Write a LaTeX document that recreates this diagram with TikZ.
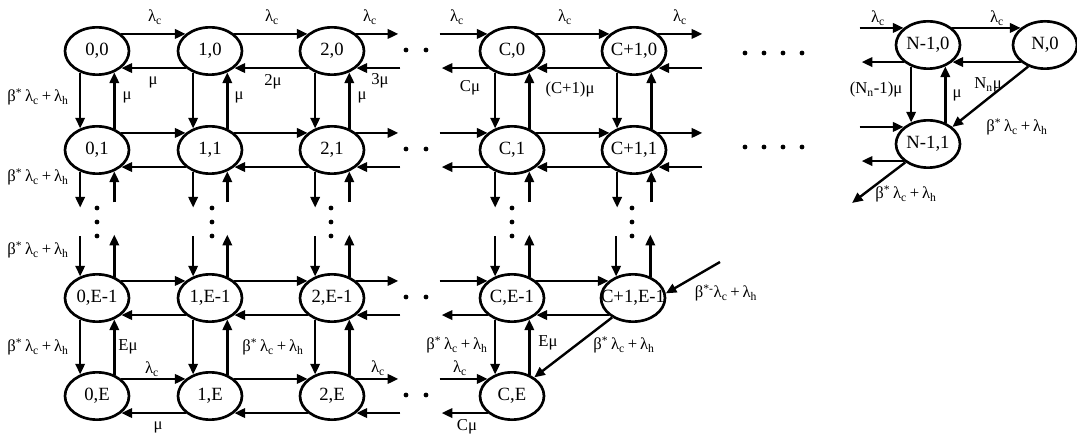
\documentclass[tikz,border=0pt]{standalone}
\usepackage{fontspec}
\setmainfont{Liberation Serif}
\usetikzlibrary{shapes.geometric,arrows.meta,calc}
\newcommand{\lc}{λ\textsubscript{c}}
\newcommand{\blab}{β\textsuperscript{*}\,λ\textsubscript{c}\,+\,λ\textsubscript{h}}
\newcommand{\mb}[1]{\makebox[0pt]{#1}}
\tikzset{
  st/.style={ellipse, draw, line width=2pt, minimum width=48pt, minimum height=35.5pt, inner sep=0pt, font=\fontsize{14}{16}\selectfont},
  ar/.style={line width=1.8pt, -{Triangle[length=8pt,width=7pt]}},
  lab/.style={inner sep=0pt, font=\fontsize{12.5}{14}\selectfont},
  dot/.style={fill=black}
}
\begin{document}
\begin{tikzpicture}[x=0.75pt,y=-0.75pt]
\useasboundingbox (0,0) rectangle (1077,434);
% ---------- nodes
\node[st] (n00) at (97,51) {\mb{0,0}};
\node[st] (n10) at (210,51) {\mb{1,0}};
\node[st] (n20) at (332,51) {\mb{2,0}};
\node[st] (nC0) at (512,51) {\mb{C,0}};
\node[st] (nD0) at (634,51) {\mb{C+1,0}};
\node[st] (nM0) at (928,45) {\mb{N-1,0}};
\node[st] (nN0) at (1045,45) {\mb{N,0}};
\node[st] (n01) at (97,150) {\mb{0,1}};
\node[st] (n11) at (210,150) {\mb{1,1}};
\node[st] (n21) at (332,150) {\mb{2,1}};
\node[st] (nC1) at (512,150) {\mb{C,1}};
\node[st] (nD1) at (634,150) {\mb{C+1,1}};
\node[st] (nM1) at (928,144) {\mb{N-1,1}};
\node[st] (n0p) at (97,298) {\mb{0,E-1}};
\node[st] (n1p) at (210,298) {\mb{1,E-1}};
\node[st] (n2p) at (332,298) {\mb{2,E-1}};
\node[st] (nCp) at (512,298) {\mb{C,E-1}};
\node[st] (nDp) at (633,298) {\mb{C+1,E-1}};
\node[st] (n0q) at (97,396) {\mb{0,E}};
\node[st] (n1q) at (210,396) {\mb{1,E}};
\node[st] (n2q) at (332,396) {\mb{2,E}};
\node[st] (nCq) at (512,396) {\mb{C,E}};
% ---------- horizontal connectors
\foreach \r in {0,1,p,q} {
  \draw[ar] (n0\r.35) -- (n1\r.145);
  \draw[ar] (n1\r.-145) -- (n0\r.-35);
  \draw[ar] (n1\r.35) -- (n2\r.145);
  \draw[ar] (n2\r.-145) -- (n1\r.-35);
  \path (n2\r.35) ++(42,0) coordinate (oa\r);
  \path (n2\r.-35) ++(44,0) coordinate (ob\r);
  \draw[ar] (n2\r.35) -- (oa\r);
  \draw[ar] (ob\r) -- (n2\r.-35);
  \path (nC\r.145) ++(-48,0) coordinate (ia\r);
  \path (nC\r.-145) ++(-46,0) coordinate (ib\r);
  \draw[ar] (ia\r) -- (nC\r.145);
  \draw[ar] (nC\r.-145) -- (ib\r);
  \path (n2\r.center) ++(74,-1) coordinate (da\r);
  \path (n2\r.center) ++(94,-1) coordinate (db\r);
  \fill[dot] (da\r) circle[radius=1.8pt];
  \fill[dot] (db\r) circle[radius=1.8pt];
}
\foreach \r in {0,1,p} {
  \draw[ar] (nC\r.35) -- (nD\r.145);
  \draw[ar] (nD\r.-145) -- (nC\r.-35);
}
\foreach \r in {0,1} {
  \path (nD\r.35) ++(44,0) coordinate (pa\r);
  \path (nD\r.-35) ++(44,0) coordinate (pb\r);
  \draw[ar] (nD\r.35) -- (pa\r);
  \draw[ar] (pb\r) -- (nD\r.-35);
  \path (nM\r.145) ++(-44,0) coordinate (qa\r);
  \path (nM\r.-145) ++(-42,0) coordinate (qb\r);
  \draw[ar] (qa\r) -- (nM\r.145);
  \draw[ar] (nM\r.-145) -- (qb\r);
}
\foreach \xx in {745,764,783,802} {
  \fill[dot] (\xx,53) circle[radius=1.8pt];
  \fill[dot] (\xx,147) circle[radius=1.8pt];
}
\draw[ar] (nM0.35) -- (nN0.145);
\draw[ar] (nN0.-145) -- (nM0.-35);
% ---------- vertical connectors
\foreach \col/\cx in {0/97,1/212,2/331,C/512,D/632} {
  \draw[ar] (n\col 0.-128.5) -- (n\col 1.128.5);
  \draw[ar] (n\col 1.51.5) -- (n\col 0.-51.5);
  \path (n\col 1.-128.5) ++(0,36) coordinate (dn\col);
  \draw[ar] (n\col 1.-128.5) -- (dn\col);
  \path (n\col 1.-51.5) ++(0,31) coordinate (up\col);
  \draw[ar] (up\col) -- (n\col 1.-51.5);
  \path (n\col p.128.5) ++(0,-40) coordinate (en\col);
  \draw[ar] (en\col) -- (n\col p.128.5);
  \path (n\col p.51.5) ++(0,-42) coordinate (fu\col);
  \draw[ar] (n\col p.51.5) -- (fu\col);
  \foreach \yy in {208,222,236} \fill[dot] (\cx,\yy) circle[radius=1.8pt];
}
\foreach \col in {0,1,2,C} {
  \draw[ar] (n\col p.-128.5) -- (n\col q.128.5);
  \draw[ar] (n\col q.51.5) -- (n\col p.-51.5);
}
\draw[ar] (nM0.-128.5) -- (nM1.128.5);
\draw[ar] (nM1.51.5) -- (nM0.-51.5);
% ---------- diagonals
\draw[ar] (nN0.-128) -- (nM1.35);
\coordinate (fM) at (852,203);
\draw[ar] (nM1.-141) -- (fM);
\draw[ar] (nDp.-137) -- (nCq.40);
\coordinate (fD) at (720,262);
\draw[ar] (fD) -- (nDp.8);
% ---------- labels
\foreach \xx/\yy in {155/17,272/17,370/17,457/17,565/17,680/17,878/18,997/18,152/369,378/368,460/368}
  \node[lab] at (\xx,\yy) {\lc};
\node[lab] (m1) at (153,82) {μ};
\node[lab] (m2) at (273,82) {2μ};
\node[lab] (m3) at (380,81) {3μ};
\node[lab] (m4) at (470,88) {Cμ};
\node[lab] (m5) at (570,90) {(C+1)μ};
\node[lab] (v1) at (127,97) {μ};
\node[lab] (v2) at (239,97) {μ};
\node[lab] (v3) at (362,97) {μ};
\node[lab] (b1) at (38,97) {\blab};
\node[lab] (b2) at (38,177) {\blab};
\node[lab] (b3) at (38,250) {\blab};
\node[lab] (b4) at (38,347) {\blab};
\node[lab] (nn1) at (876,90) {(N\textsubscript{n}-1)μ};
\node[lab] (nn2) at (957,95) {μ};
\node[lab] (nn3) at (988,85) {N\textsubscript{n}μ};
\node[lab] (b5) at (1017,127) {\blab};
\node[lab] (b6) at (906,194) {\blab};
\node[lab] (e1) at (128,347) {Eμ};
\node[lab] (m6) at (158,427) {μ};
\node[lab] (b7) at (273,347) {\blab};
\node[lab] (b8) at (457,345) {\blab};
\node[lab] (e2) at (548,343) {Eμ};
\node[lab] (b9) at (624,345) {\blab};
\node[lab] (b10) at (726,293) {β\textsuperscript{*-}λ\textsubscript{c}\,+\,λ\textsubscript{h}};
\node[lab] (m7) at (467,427) {Cμ};
\end{tikzpicture}
\end{document}
